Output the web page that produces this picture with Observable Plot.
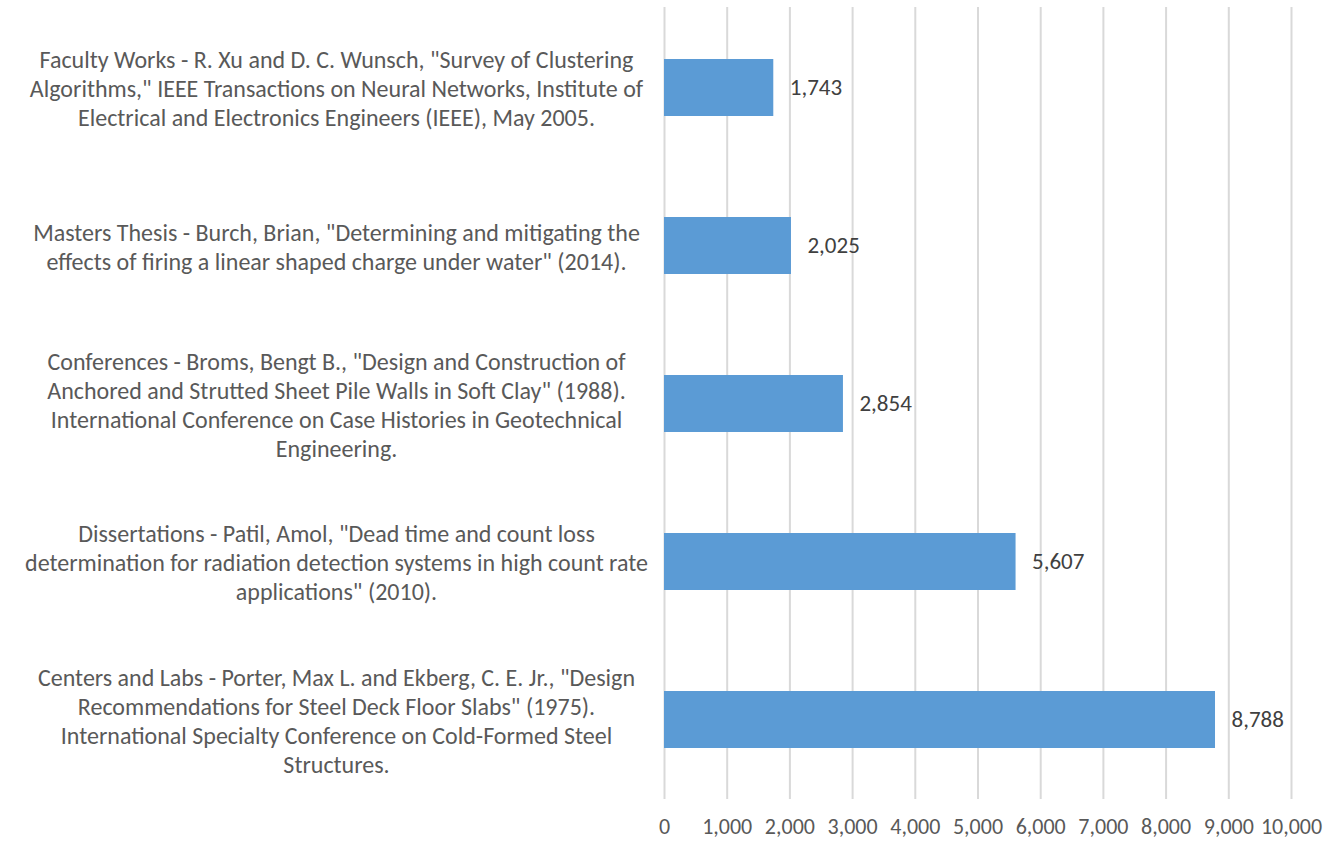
<!DOCTYPE html>
<html>
<head>
<meta charset="utf-8">
<script src="https://cdn.jsdelivr.net/npm/d3@7"></script>
<script src="https://cdn.jsdelivr.net/npm/@observablehq/plot@0.6"></script>
<style>
  html, body { margin: 0; padding: 0; background: #fff; }
  #chart svg { display: block; }
</style>
</head>
<body>
<div id="chart"></div>
<script>
const categories = [
  "Faculty Works - R. Xu and D. C. Wunsch, \"Survey of Clustering\nAlgorithms,\" IEEE Transactions on Neural Networks, Institute of\nElectrical and Electronics Engineers (IEEE), May 2005.",
  "Masters Thesis - Burch, Brian, \"Determining and mitigating the\neffects of firing a linear shaped charge under water\" (2014).",
  "Conferences - Broms, Bengt B., \"Design and Construction of\nAnchored and Strutted Sheet Pile Walls in Soft Clay\" (1988).\nInternational Conference on Case Histories in Geotechnical\nEngineering.",
  "Dissertations - Patil, Amol, \"Dead time and count loss\ndetermination for radiation detection systems in high count rate\napplications\" (2010).",
  "Centers and Labs - Porter, Max L. and Ekberg, C. E. Jr., \"Design\nRecommendations for Steel Deck Floor Slabs\" (1975).\nInternational Specialty Conference on Cold-Formed Steel\nStructures."
];
const values = [1743, 2025, 2854, 5607, 8788];
const xTicks = [0, 1000, 2000, 3000, 4000, 5000, 6000, 7000, 8000, 9000, 10000];

const data = categories.map((c, i) => ({category: c, value: values[i]}));
const fmt = d3.format(",");
const FONT = "Carlito, Calibri, Lato, sans-serif";

const chart = Plot.plot({
  width: 1331,
  height: 843,
  marginLeft: 664,
  marginRight: 40,
  marginTop: 7,
  marginBottom: 44,
  style: {fontFamily: FONT, fontSize: "23px", color: "#595959", background: "#fff"},
  x: {domain: [0, 10000], ticks: xTicks, label: null},
  y: {domain: categories, paddingInner: 0.64, paddingOuter: 0.32, label: null},
  marks: [
    Plot.ruleX(xTicks, {stroke: "#d9d9d9", strokeWidth: 2}),
    Plot.barX(data, {x: "value", y: "category", fill: "#5b9bd5"}),
    Plot.text(data, {x: "value", y: "category", text: d => fmt(d.value), textAnchor: "start", dx: 16, fill: "#404040", fontSize: 23}),
    Plot.axisX({ticks: xTicks, tickFormat: fmt, tickSize: 0, tickPadding: 19, fill: "#595959", fontSize: 22, label: null}),
    Plot.axisY({tickSize: 0, tickPadding: 0, textAnchor: "middle", dx: -328, lineHeight: 1.21, fill: "#595959", fontSize: 24, label: null, tickFormat: d => d})
  ]
});
document.getElementById("chart").appendChild(chart);
</script>
</body>
</html>
